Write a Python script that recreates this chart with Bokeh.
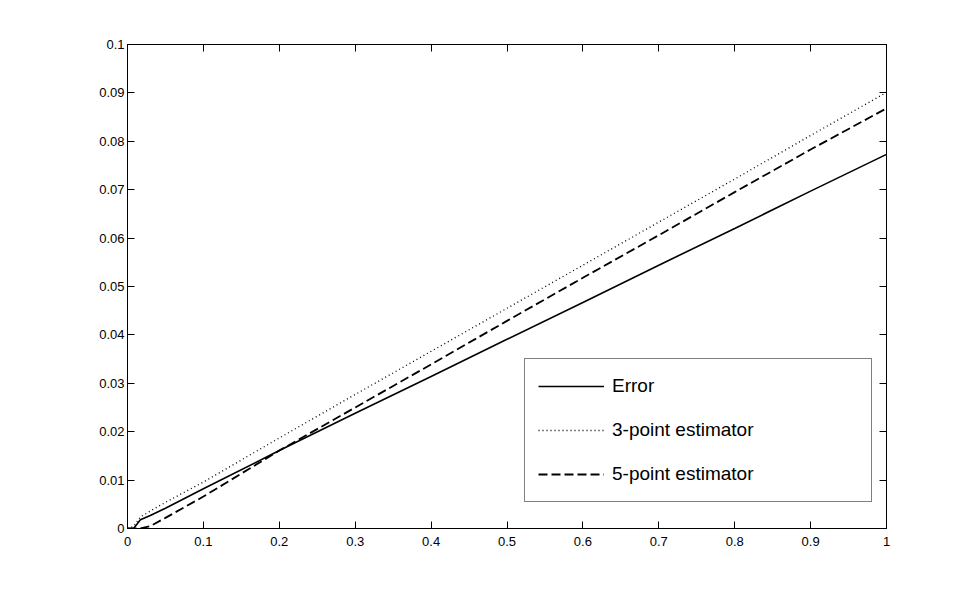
from bokeh.plotting import figure
from bokeh.models import Range1d, FixedTicker, LinearAxis, Legend, LegendItem, CustomJSTickFormatter
from bokeh.embed import file_html
from bokeh.resources import INLINE

# ---- data ----
x_vals = [0, 0.008, 0.017, 0.03, 0.05, 0.1, 0.2, 0.3, 0.4, 0.5, 0.6, 0.7, 0.8, 0.9, 1.0]
error_vals = [0, 0, 0.0018, 0.0027, 0.0042, 0.0082, 0.0161, 0.0238, 0.0314, 0.0391, 0.0467, 0.0544, 0.0620, 0.0697, 0.0773]
est3_vals = [0, 0.0004, 0.0024, 0.0036, 0.0054, 0.0096, 0.0187, 0.0277, 0.0366, 0.0455, 0.0544, 0.0633, 0.0722, 0.0812, 0.0901]
est5_vals = [0, 0, 0, 0.0005, 0.0022, 0.0066, 0.0161, 0.0250, 0.0339, 0.0429, 0.0518, 0.0606, 0.0695, 0.0783, 0.0868]

series_names = ["Error", "3-point estimator", "5-point estimator"]

x_ticks = [0, 0.1, 0.2, 0.3, 0.4, 0.5, 0.6, 0.7, 0.8, 0.9, 1]
x_tick_labels = ["0", "0.1", "0.2", "0.3", "0.4", "0.5", "0.6", "0.7", "0.8", "0.9", "1"]
y_ticks = [0, 0.01, 0.02, 0.03, 0.04, 0.05, 0.06, 0.07, 0.08, 0.09, 0.1]
y_tick_labels = ["0", "0.01", "0.02", "0.03", "0.04", "0.05", "0.06", "0.07", "0.08", "0.09", "0.1"]

FONT = "Liberation Sans"

p = figure(
    frame_width=759, frame_height=484,
    min_border_left=127, min_border_right=85, min_border_top=44, min_border_bottom=57,
    x_range=Range1d(0, 1), y_range=Range1d(0, 0.1),
    output_backend="svg", toolbar_location=None,
    x_axis_location=None, y_axis_location=None,
)
p.xgrid.visible = False
p.ygrid.visible = False
p.outline_line_color = "black"
p.outline_line_width = 1
p.background_fill_color = "white"
p.border_fill_color = "white"

def style_axis(ax, ticks, labels, show_labels, standoff):
    ax.ticker = FixedTicker(ticks=ticks)
    ax.axis_line_color = "black"
    ax.axis_line_width = 1
    ax.major_tick_line_color = "black"
    ax.major_tick_in = 7
    ax.major_tick_out = 0
    ax.minor_tick_line_color = None
    ax.major_label_standoff = standoff
    ax.major_label_text_font = FONT
    ax.major_label_text_font_size = "13px"
    ax.major_label_text_color = "black"
    if show_labels:
        ax.major_label_overrides = {t: l for t, l in zip(ticks, labels)}
    else:
        ax.formatter = CustomJSTickFormatter(code="return ''")

xb = LinearAxis(); style_axis(xb, x_ticks, x_tick_labels, True, 8); p.add_layout(xb, "below")
xa = LinearAxis(); style_axis(xa, x_ticks, x_tick_labels, False, 0); p.add_layout(xa, "above")
yl = LinearAxis(); style_axis(yl, y_ticks, y_tick_labels, True, 3); p.add_layout(yl, "left")
yr = LinearAxis(); style_axis(yr, y_ticks, y_tick_labels, False, 0); p.add_layout(yr, "right")

r1 = p.line(x_vals, error_vals, line_color="black", line_width=1.6)
r2 = p.line(x_vals, est3_vals, line_color="black", line_width=1.3, line_dash="1 3")
r3 = p.line(x_vals, est5_vals, line_color="black", line_width=1.8, line_dash="9 4")

legend = Legend(
    items=[LegendItem(label=series_names[0], renderers=[r1]),
           LegendItem(label=series_names[1], renderers=[r2]),
           LegendItem(label=series_names[2], renderers=[r3])],
    location=(397, 26),
    orientation="vertical",
    padding=13, spacing=16, margin=0,
    glyph_width=66, glyph_height=28, label_height=28,
    label_standoff=8, label_width=246,
    label_text_font=FONT, label_text_font_size="19px", label_text_color="black",
    border_line_color="black", border_line_width=1,
    background_fill_color="white", background_fill_alpha=1,
)
p.add_layout(legend)

open("out.html", "w").write(file_html(p, INLINE))
